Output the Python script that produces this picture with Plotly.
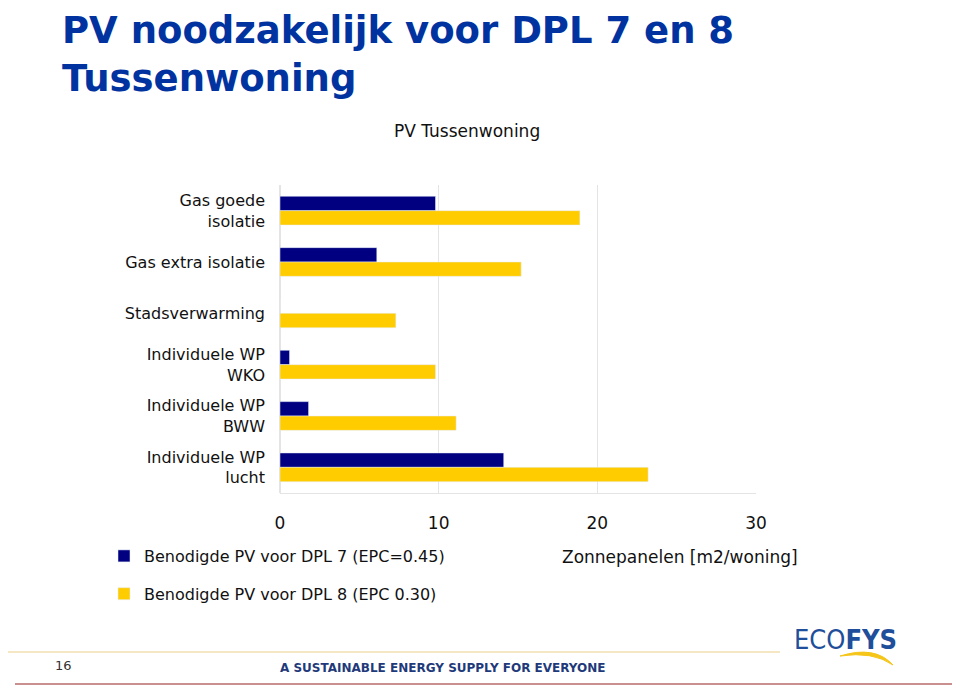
import plotly.graph_objects as go

categories = ["Gas goede<br>isolatie", "Gas extra isolatie", "Stadsverwarming",
              "Individuele WP<br>WKO", "Individuele WP<br>BWW", "Individuele WP<br>lucht"]
dpl7 = [9.8, 6.1, 0.0, 0.6, 1.8, 14.1]
dpl8 = [18.9, 15.2, 7.3, 9.8, 11.1, 23.2]
series_names = ["Benodigde PV voor DPL 7 (EPC=0.45)", "Benodigde PV voor DPL 8 (EPC 0.30)"]
x_ticks = [0, 10, 20, 30]

NAVY = "#000080"
YELLOW = "#FFCC00"
FONT = "DejaVu Sans"

OFF = 8  # page body margin
W, H = 960, 686
# plot area in page pixels
L, R, T, B = 280, 756, 185, 493
fL, fR, fT, fB = L - OFF, R - OFF, T - OFF, B - OFF

def px(x):
    return (x - L) / (R - L)

def py(y):
    return (B - y) / (B - T)

fig = go.Figure()
fig.add_trace(go.Bar(y=categories, x=dpl7, orientation="h", name=series_names[0],
                     marker_color=NAVY, legendgroup="a", legendrank=1))
fig.add_trace(go.Bar(y=categories, x=dpl8, orientation="h", name=series_names[1],
                     marker_color=YELLOW, legendgroup="b", legendrank=2))

fig.update_layout(
    width=W, height=H,
    margin=dict(l=fL, r=W - fR, t=fT, b=H - fB, pad=0),
    paper_bgcolor="white", plot_bgcolor="white",
    barmode="group", bargap=0.44, bargroupgap=0,
    font=dict(family=FONT, size=16, color="#111111"),
    showlegend=True,
    legend=dict(x=px(104), y=py(539), xanchor="left", yanchor="top",
                orientation="v", tracegroupgap=14, itemwidth=30,
                font=dict(family=FONT, size=16, color="#111111"),
                bgcolor="rgba(0,0,0,0)"),
)
fig.update_xaxes(range=[0, 30], tickvals=x_ticks, showgrid=True, gridcolor="#e4e4e4",
                 gridwidth=1, zeroline=True, zerolinecolor="#e4e4e4", showline=True,
                 linecolor="#e4e4e4", ticks="", ticklabelstandoff=15,
                 tickfont=dict(size=17, color="#111111"))
fig.update_yaxes(autorange="reversed", showgrid=False, ticks="", ticklabelstandoff=14,
                 tickfont=dict(size=16, color="#111111"))

ann = []
ann.append(dict(text="PV noodzakelijk voor DPL 7 en 8<br>Tussenwoning", x=px(61), y=py(OFF),
                xref="paper", yref="paper", xanchor="left", yanchor="top", showarrow=False,
                align="left", borderpad=0,
                font=dict(family="DejaVu Sans", size=37, color="#0033A0", weight="bold")))
ann.append(dict(text="PV Tussenwoning", x=px(467), y=py(131), xref="paper", yref="paper",
                xanchor="center", yanchor="middle", showarrow=False,
                font=dict(family=FONT, size=17, color="#111111")))
ann.append(dict(text="Zonnepanelen [m2/woning]", x=px(800), y=py(557), xref="paper", yref="paper",
                xanchor="right", yanchor="middle", showarrow=False,
                font=dict(family=FONT, size=17, color="#111111")))
ann.append(dict(text="16", x=px(63), y=py(665), xref="paper", yref="paper",
                xanchor="center", yanchor="middle", showarrow=False,
                font=dict(family=FONT, size=13, color="#333333")))
ann.append(dict(text="A SUSTAINABLE ENERGY SUPPLY FOR EVERYONE", x=px(443), y=py(668),
                xref="paper", yref="paper", xanchor="center", yanchor="middle", showarrow=False,
                font=dict(family=FONT, size=12, color="#1F3A7A", weight="bold")))
ann.append(dict(text="ECO<b>FYS</b>", x=px(845), y=py(639), xref="paper", yref="paper",
                xanchor="center", yanchor="middle", showarrow=False,
                font=dict(family="DejaVu Sans Condensed", size=27, color="#1F4E9A")))
fig.update_layout(annotations=ann)

shapes = [
    dict(type="line", xref="paper", yref="paper", x0=px(5), x1=px(780), y0=py(652), y1=py(652),
         line=dict(color="#F3DFB0", width=1.5)),
    dict(type="line", xref="paper", yref="paper", x0=px(15), x1=px(955), y0=py(684), y1=py(684),
         line=dict(color="#B86B6B", width=1.5)),
    dict(type="path", xref="paper", yref="paper",
         path=f"M {px(840)} {py(656)} Q {px(875)} {py(645)} {px(893)} {py(665)} "
              f"Q {px(873)} {py(651)} {px(840)} {py(656)} Z",
         fillcolor="#F5C518", line=dict(color="#F5C518", width=1)),
]
fig.update_layout(shapes=shapes)

fig.write_html("out.html")
